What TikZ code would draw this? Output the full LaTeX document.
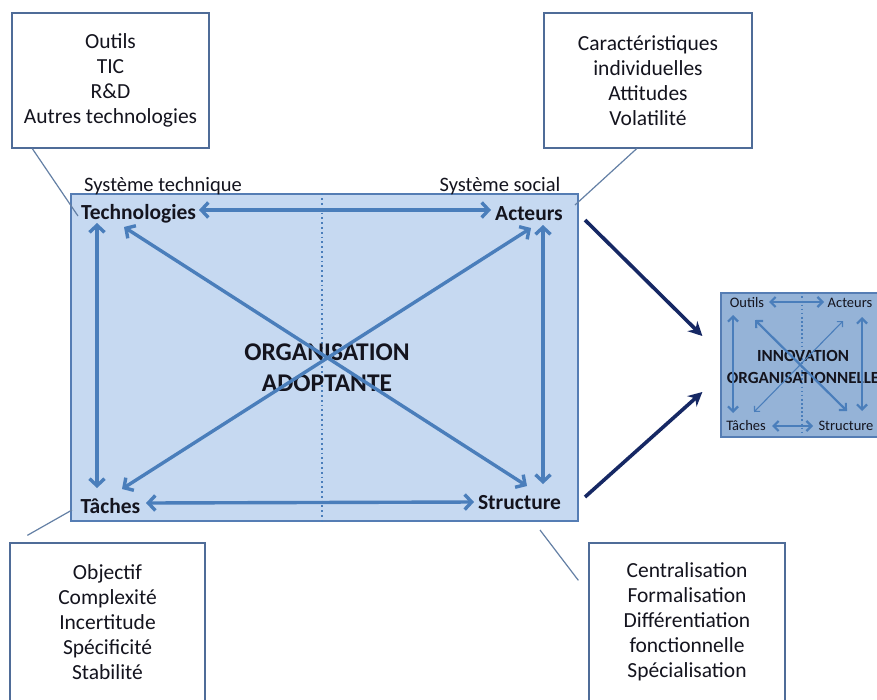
\documentclass[tikz,border=0pt]{standalone}
\usepackage{fontspec}
\setmainfont{Carlito}
\usetikzlibrary{arrows.meta}
\definecolor{boxborder}{RGB}{79,108,152}
\definecolor{mainfill}{RGB}{198,217,241}
\definecolor{mainborder}{RGB}{85,125,180}
\definecolor{arrowblue}{RGB}{74,126,187}
\definecolor{smallfill}{RGB}{149,179,215}
\definecolor{navy}{RGB}{22,40,100}
\definecolor{linkgray}{RGB}{100,128,165}
\definecolor{txt}{RGB}{20,20,30}
\tikzset{
  infobox/.style={draw=boxborder, line width=1.3pt, fill=white, align=center, text=txt,
    font=\fontsize{21.5}{25}\selectfont, inner sep=0pt},
  mainbox/.style={draw=mainborder, line width=1.3pt, fill=mainfill, inner sep=0pt},
  smallbox/.style={draw=mainborder, line width=1.3pt, fill=smallfill, inner sep=0pt},
  corner/.style={font=\bfseries\fontsize{21.5}{24}\selectfont, inner sep=1pt, text=txt},
  syslabel/.style={font=\fontsize{20.5}{22}\selectfont, inner sep=1pt, text=txt},
  bigtitle/.style={font=\bfseries\fontsize{25.5}{31}\selectfont, align=center, inner sep=0pt, text=txt},
  smallcorner/.style={font=\fontsize{14.5}{16}\selectfont, inner sep=0.5pt, text=txt},
  smalltitle/.style={font=\bfseries\fontsize{17}{22}\selectfont, align=center, inner sep=0pt, text=txt},
  biarrow/.style={draw=arrowblue, line width=3.4pt,
    {Straight Barb[length=7pt,width=15pt]}-{Straight Barb[length=7pt,width=15pt]}},
  smallbiarrow/.style={draw=arrowblue, line width=2.2pt,
    {Straight Barb[length=5pt,width=10pt]}-{Straight Barb[length=5pt,width=10pt]}},
  thinbiarrow/.style={draw=arrowblue, line width=1.1pt,
    {Straight Barb[length=4pt,width=8pt]}-{Straight Barb[length=4pt,width=8pt]}},
  navyarrow/.style={draw=navy, line width=3.6pt, -{Stealth[length=14pt,width=14pt]}},
  dotline/.style={draw=arrowblue, line width=1.8pt, dash pattern=on 1.8pt off 3pt},
  smalldot/.style={draw=arrowblue, line width=1.6pt, dash pattern=on 1.6pt off 2.5pt},
  link/.style={draw=linkgray, line width=1.2pt}
}
\begin{document}
\begin{tikzpicture}[x=1pt,y=-1pt]
\useasboundingbox (0,0) rectangle (877,699);
\clip (0,0) rectangle (877,699);
\fill[white] (0,0) rectangle (877,699);

% info boxes
\node[infobox, minimum width=197pt, minimum height=135pt] (tl) at (110.5,80.5)
  {Outils\\TIC\\R\&D\\Autres technologies};
\node[infobox, minimum width=208pt, minimum height=135pt] (tr) at (648,80.5)
  {Caractéristiques\\individuelles\\Attitudes\\Volatilité};
\node[infobox, minimum width=195pt, minimum height=158pt] (bl) at (107.5,622)
  {Objectif\\Complexité\\Incertitude\\Spécificité\\Stabilité};
\node[infobox, minimum width=196pt, minimum height=158pt] (br) at (687,622)
  {Centralisation\\Formalisation\\Différentiation\\fonctionnelle\\Spécialisation};

% main box
\node[mainbox, minimum width=507pt, minimum height=327pt] (org) at (324.5,357.5) {};
\draw[dotline] ([xshift=-2.5pt]org.north) -- ([xshift=-2.5pt]org.south);

\node[syslabel] (st) at (163,186) {Système technique};
\node[syslabel] (ss) at (500,186) {Système social};

\node[corner] (tech) at (138.5,214) {Technologies};
\node[corner] (act) at (529,214) {Acteurs};
\node[corner] (tach) at (110.5,506) {Tâches};
\node[corner] (struc) at (519.5,503) {Structure};

\node[bigtitle] (title) at (327,367.5) {ORGANISATION\\ADOPTANTE};

% arrow end points
\coordinate (hT1) at (199,210);
\coordinate (hT2) at (491,210);
\coordinate (hB1) at (146,503);
\coordinate (hB2) at (474,502);
\coordinate (vL1) at (97,223);
\coordinate (vL2) at (97,488);
\coordinate (vR1) at (543,225);
\coordinate (vR2) at (543,484);
\coordinate (d1a) at (124,227);
\coordinate (d1b) at (527,486);
\coordinate (d2a) at (531,228);
\coordinate (d2b) at (122,489);

\draw[biarrow] (hT1) -- (hT2);
\draw[biarrow] (hB1) -- (hB2);
\draw[biarrow] (vL1) -- (vL2);
\draw[biarrow] (vR1) -- (vR2);
\draw[biarrow] (d1a) -- (d1b);
\draw[biarrow] (d2a) -- (d2b);

% link lines
\coordinate (lTL) at (78,216);
\coordinate (lTR) at (575,205);
\coordinate (lBL) at (72,510);
\coordinate (lBR) at (540,530);
\draw[link] ([xshift=21pt]tl.south west) -- (lTL);
\draw[link] ([xshift=-116pt]tr.south east) -- (lTR);
\draw[link] ([xshift=18pt,yshift=7pt]bl.north west) -- (lBL);
\draw[link] ([xshift=-10pt,yshift=-38pt]br.north west) -- (lBR);

% small box
\node[smallbox, minimum width=162pt, minimum height=144pt] (inno) at (802,365) {};
\draw[smalldot] (inno.north) -- (inno.south);
\node[smallcorner] (sOut) at (747,303) {Outils};
\node[smallcorner] (sAct) at (850,303) {Acteurs};
\node[smallcorner] (sTac) at (746,426) {Tâches};
\node[smallcorner] (sStr) at (846,426) {Structure};
\node[smalltitle] (stitle) at (803,367) {INNOVATION\\ORGANISATIONNELLE};

\coordinate (shT1) at (769,302);
\coordinate (shT2) at (824,302);
\coordinate (shB1) at (772,426);
\coordinate (shB2) at (813,426);
\coordinate (svL1) at (733,315);
\coordinate (svL2) at (733,413);
\coordinate (svR1) at (862,317);
\coordinate (svR2) at (862,411);
\coordinate (sd1a) at (755,320);
\coordinate (sd1b) at (847,411);
\coordinate (sd2a) at (843,321);
\coordinate (sd2b) at (754,412);
\draw[smallbiarrow] (shT1) -- (shT2);
\draw[smallbiarrow] (shB1) -- (shB2);
\draw[smallbiarrow] (svL1) -- (svL2);
\draw[smallbiarrow] (svR1) -- (svR2);
\draw[smallbiarrow] (sd1a) -- (sd1b);
\draw[thinbiarrow] (sd2a) -- (sd2b);

% navy arrows
\coordinate (n1) at (585,220);
\coordinate (n2) at (585,497);
\draw[navyarrow] (n1) -- ([xshift=-18pt,yshift=29pt]inno.west);
\draw[navyarrow] (n2) -- ([xshift=-18pt,yshift=-27pt]inno.west);
\end{tikzpicture}
\end{document}
